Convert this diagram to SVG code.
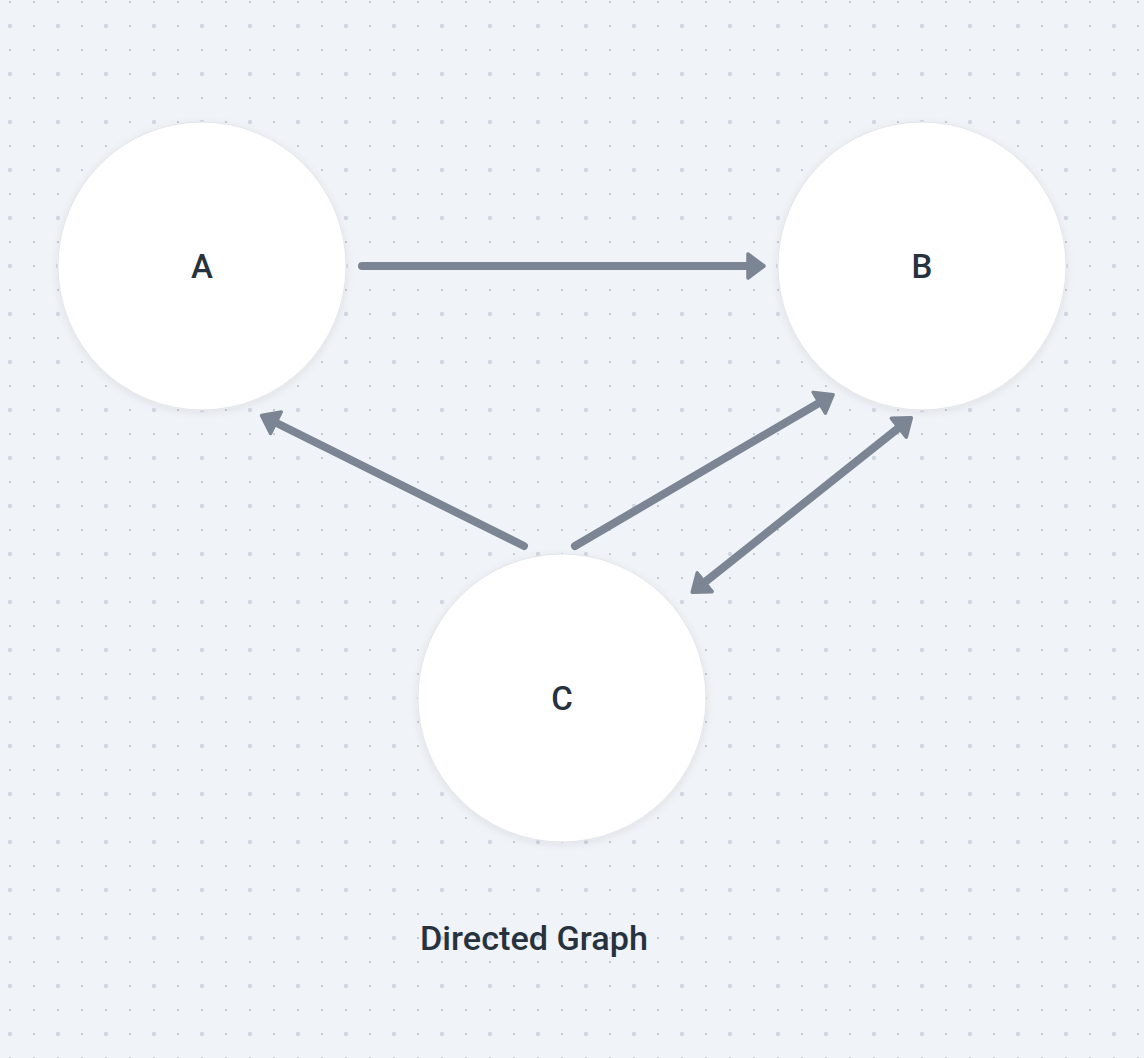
<svg xmlns="http://www.w3.org/2000/svg" width="1144" height="1058" viewBox="0 0 1144 1058">
  <style>
    .node { fill: #ffffff; stroke: #e2e5e9; stroke-width: 1; filter: url(#shadow); }
    .label { font-family: Roboto, "Liberation Sans", sans-serif; font-size: 33px; font-weight: 500; fill: #27323f; text-anchor: middle; }
    .title { font-family: Roboto, "Liberation Sans", sans-serif; font-size: 34px; font-weight: 500; fill: #27323f; text-anchor: middle; }
    .edge { stroke: #7b8593; stroke-width: 8; stroke-linecap: round; fill: none; }
  </style>
  <defs>
    <pattern id="dots" x="0" y="0" width="24" height="24" patternUnits="userSpaceOnUse">
      <rect x="9" y="1" width="2" height="2" fill="#c6cbd2"/>
    </pattern>
    <pattern id="bigdots" x="0" y="0" width="48" height="48" patternUnits="userSpaceOnUse">
      <circle cx="10" cy="26" r="2.2" fill="#d0d6e2"/>
    </pattern>
    <filter id="shadow" x="-20%" y="-20%" width="140%" height="140%">
      <feDropShadow dx="0" dy="2" stdDeviation="4" flood-color="#1c2733" flood-opacity="0.08"/>
    </filter>
    <marker id="arrow" markerUnits="userSpaceOnUse" markerWidth="26" markerHeight="30" refX="8" refY="14" orient="auto-start-reverse" viewBox="0 0 26 30">
      <path d="M2,2 L18,14 L2,26 Z" fill="#7b8593" stroke="#7b8593" stroke-width="3.5" stroke-linejoin="round"/>
    </marker>
  </defs>
  <rect width="1144" height="1058" fill="#f0f3f7"/>
  <rect width="1144" height="1058" fill="url(#dots)"/>
  <rect width="1144" height="1058" fill="url(#bigdots)"/>

  <g id="connectors">
    <line class="edge" x1="362" y1="266" x2="754" y2="266" marker-end="url(#arrow)"/>
    <line class="edge" x1="524" y1="546" x2="270.5" y2="420" marker-end="url(#arrow)"/>
    <line class="edge" x1="575" y1="546" x2="824.5" y2="399.7" marker-end="url(#arrow)"/>
    <line class="edge" x1="700" y1="586" x2="903.5" y2="424" marker-start="url(#arrow)" marker-end="url(#arrow)"/>
  </g>

  <g id="node-A">
    <circle class="node" cx="202" cy="266" r="144"/>
    <text class="label" x="202" y="278">A</text>
  </g>
  <g id="node-B">
    <circle class="node" cx="922" cy="266" r="144"/>
    <text class="label" x="922" y="278">B</text>
  </g>
  <g id="node-C">
    <circle class="node" cx="562" cy="698" r="144"/>
    <text class="label" x="562" y="710">C</text>
  </g>

  <g id="title">
    <text class="title" x="534" y="950" textLength="228" lengthAdjust="spacingAndGlyphs">Directed Graph</text>
  </g>
</svg>
